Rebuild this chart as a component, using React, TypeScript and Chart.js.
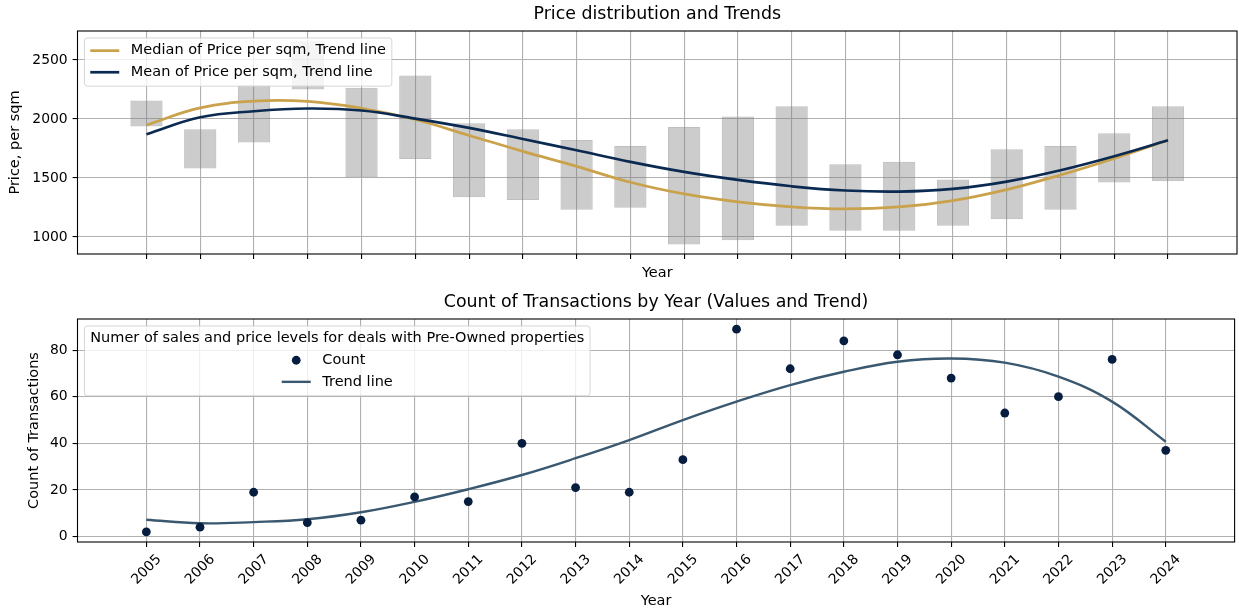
import React, { useEffect, useRef } from 'react';
import { Chart, registerables } from 'chart.js';

Chart.register(...registerables);

// ---------- data ----------
const years = [2005, 2006, 2007, 2008, 2009, 2010, 2011, 2012, 2013, 2014, 2015, 2016, 2017, 2018, 2019, 2020, 2021, 2022, 2023, 2024];
const priceLow = [1935, 1580, 1800, 2250, 1505, 1660, 1337, 1313, 1231, 1248, 935, 971, 1094, 1053, 1053, 1094, 1149, 1231, 1462, 1471];
const priceHigh = [2155, 1912, 2285, 2658, 2263, 2367, 1964, 1912, 1822, 1771, 1932, 2020, 2108, 1616, 1636, 1486, 1742, 1771, 1878, 2108];
const medianTrend = [1949, 2093, 2150, 2148, 2090, 1995, 1860, 1725, 1598, 1463, 1364, 1297, 1254, 1237, 1254, 1308, 1401, 1525, 1665, 1819];
const meanTrend = [1870, 2014, 2065, 2088, 2071, 2003, 1924, 1830, 1734, 1636, 1551, 1483, 1429, 1393, 1384, 1407, 1469, 1565, 1684, 1819];
const counts = [2, 4, 19, 6, 7, 17, 15, 40, 21, 19, 33, 89, 72, 84, 78, 68, 53, 60, 76, 37];
const countTrend = [7.2, 5.7, 6.2, 7.4, 10.4, 14.9, 20.3, 26.4, 33.6, 41.4, 50, 57.9, 65, 70.7, 75, 76.4, 74.6, 68.6, 57.9, 40.7];
const priceTicks = [1000, 1500, 2000, 2500];
const countTicks = [0, 20, 40, 60, 80];

// ---------- styles / layout ----------
const FONT = "'DejaVu Sans', sans-serif";
const FS = 13.9; // tick labels
const LFS = 14.5; // legend / axis titles
const TITLE_FS = 17.4;
const W = 1239;
const TOP_H = 290;
const BOT_H = 322;
const PLOT_LEFT = 77.5;
const X_MIN = 2003.717;
const X_MAX = 2025.283;
const GOLD = '#C9A24B';
const NAVY = '#0B2A52';
const DOT = '#071D3F';
const TREND = '#3A586F';
const GRID = '#b0b0b0';

type LegendItem = { label: string; kind: 'line' | 'dot'; color: string; width?: number };
type LegendSpec = { title?: string; items: LegendItem[] };

function roundRectPath(ctx: CanvasRenderingContext2D, x: number, y: number, w: number, h: number, r: number) {
  ctx.beginPath();
  ctx.moveTo(x + r, y);
  ctx.lineTo(x + w - r, y);
  ctx.arcTo(x + w, y, x + w, y + r, r);
  ctx.lineTo(x + w, y + h - r);
  ctx.arcTo(x + w, y + h, x + w - r, y + h, r);
  ctx.lineTo(x + r, y + h);
  ctx.arcTo(x, y + h, x, y + h - r, r);
  ctx.lineTo(x, y + r);
  ctx.arcTo(x, y, x + r, y, r);
  ctx.closePath();
}

function decorPlugin(title: string, legend: LegendSpec) {
  return {
    id: 'mplDecor',
    afterDraw(chart: any) {
      const { ctx, chartArea: ca } = chart;
      ctx.save();
      // frame (spines)
      ctx.strokeStyle = '#000';
      ctx.lineWidth = 1.1;
      ctx.strokeRect(ca.left, ca.top, ca.right - ca.left, ca.bottom - ca.top);

      // title
      ctx.font = `${TITLE_FS}px ${FONT}`;
      ctx.fillStyle = '#000';
      ctx.textAlign = 'center';
      ctx.textBaseline = 'alphabetic';
      ctx.fillText(title, (ca.left + ca.right) / 2, ca.top - 11.8);

      // legend
      ctx.font = `${LFS}px ${FONT}`;
      const pad = 5.8;
      const handleLen = 29;
      const handlePad = 11.6;
      const rowH = 21.6;
      const x0 = ca.left + 6.95;
      const y0 = ca.top + 6.95;
      const labelW = Math.max(...legend.items.map((it) => ctx.measureText(it.label).width));
      const entriesW = handleLen + handlePad + labelW;
      const titleW = legend.title ? ctx.measureText(legend.title).width : 0;
      const innerW = Math.max(entriesW, titleW);
      const nRows = legend.items.length + (legend.title ? 1 : 0);
      const boxW = innerW + 2 * pad;
      const boxH = 26.6 + (nRows - 1) * rowH;
      roundRectPath(ctx, x0, y0, boxW, boxH, 2.8);
      ctx.fillStyle = 'rgba(255,255,255,0.8)';
      ctx.fill();
      ctx.strokeStyle = 'rgba(204,204,204,0.8)';
      ctx.lineWidth = 1;
      ctx.stroke();

      let rowY = y0 + 12.7;
      ctx.textBaseline = 'middle';
      ctx.fillStyle = '#000';
      if (legend.title) {
        ctx.textAlign = 'center';
        ctx.fillText(legend.title, x0 + boxW / 2, rowY);
        rowY += rowH;
      }
      const bx = x0 + pad + (innerW - entriesW) / 2;
      for (const it of legend.items) {
        if (it.kind === 'line') {
          ctx.strokeStyle = it.color;
          ctx.lineWidth = it.width || 2;
          ctx.beginPath();
          ctx.moveTo(bx, rowY);
          ctx.lineTo(bx + handleLen, rowY);
          ctx.stroke();
        } else {
          ctx.fillStyle = it.color;
          ctx.beginPath();
          ctx.arc(bx + handleLen / 2, rowY, 4.4, 0, Math.PI * 2);
          ctx.fill();
        }
        ctx.fillStyle = '#000';
        ctx.textAlign = 'left';
        ctx.fillText(it.label, bx + handleLen + handlePad, rowY);
        rowY += rowH;
      }
      ctx.restore();
    },
  };
}

const tickFont = { size: FS, family: FONT };
const labelFont = { size: LFS, family: FONT };

function baseX(showLabels: boolean, height: number, titlePadBottom: number) {
  return {
    type: 'linear',
    min: X_MIN,
    max: X_MAX,
    offset: false,
    grid: { offset: false, color: GRID, lineWidth: 1.1, tickColor: '#000', tickLength: 4.9, tickWidth: 1.1, drawTicks: true },
    border: { display: false },
    ticks: showLabels
      ? {
          display: true,
          autoSkip: false,
          minRotation: 45,
          maxRotation: 45,
          labelOffset: 12.8,
          padding: 4.4,
          font: tickFont,
          color: '#000',
          callback: (v: any) => String(v),
        }
      : { display: false },
    afterBuildTicks: (s: any) => {
      s.ticks = years.map((v) => ({ value: v }));
    },
    afterFit: (s: any) => {
      s.height = height;
    },
    title: { display: true, text: 'Year', font: labelFont, color: '#000', padding: { top: 0, bottom: titlePadBottom } },
  };
}

function baseY(min: number, max: number, ticks: number[], title: string, titlePad: number) {
  return {
    type: 'linear',
    min,
    max,
    beginAtZero: false,
    grid: { color: GRID, lineWidth: 1.1, tickColor: '#000', tickLength: 4.9, tickWidth: 1.1, drawTicks: true },
    border: { display: false },
    ticks: { font: tickFont, color: '#000', padding: 4.9, autoSkip: false, callback: (v: any) => String(v) },
    afterBuildTicks: (s: any) => {
      s.ticks = ticks.map((v) => ({ value: v }));
    },
    afterFit: (s: any) => {
      s.width = PLOT_LEFT;
    },
    title: { display: true, text: title, font: labelFont, color: '#000', padding: { top: titlePad, bottom: 0 } },
  };
}

export default function App() {
  const topRef = useRef<HTMLCanvasElement>(null);
  const botRef = useRef<HTMLCanvasElement>(null);

  useEffect(() => {
    Chart.defaults.font.family = FONT;
    Chart.defaults.color = '#000';

    const top = new Chart(topRef.current as HTMLCanvasElement, {
      type: 'bar',
      data: {
        datasets: [
          {
            type: 'line',
            label: 'Mean of Price per sqm, Trend line',
            data: years.map((y, i) => ({ x: y, y: meanTrend[i] })),
            borderColor: NAVY,
            borderWidth: 2.7,
            pointRadius: 0,
            tension: 0.4,
            fill: false,
            order: 1,
          },
          {
            type: 'line',
            label: 'Median of Price per sqm, Trend line',
            data: years.map((y, i) => ({ x: y, y: medianTrend[i] })),
            borderColor: GOLD,
            borderWidth: 2.7,
            pointRadius: 0,
            tension: 0.4,
            fill: false,
            order: 2,
          },
          {
            type: 'bar',
            label: 'Price range',
            data: years.map((y, i) => ({ x: y, y: [priceLow[i], priceHigh[i]] })),
            backgroundColor: 'rgba(128,128,128,0.4)',
            borderColor: 'rgba(128,128,128,0.5)',
            borderWidth: 1,
            borderSkipped: false,
            categoryPercentage: 1,
            barPercentage: 0.6,
            order: 3,
          },
        ],
      } as any,
      options: {
        animation: false,
        responsive: false,
        events: [],
        devicePixelRatio: 1,
        layout: { padding: { top: 31, right: 2, left: 0, bottom: 0 } },
        plugins: { legend: { display: false }, tooltip: { enabled: false }, title: { display: false } },
        scales: {
          x: baseX(false, TOP_H - 254, 8.3),
          y: baseY(855, 2745, priceTicks, 'Price, per sqm', 6.3),
        },
      } as any,
      plugins: [
        decorPlugin('Price distribution and Trends', {
          items: [
            { label: 'Median of Price per sqm, Trend line', kind: 'line', color: GOLD, width: 2.7 },
            { label: 'Mean of Price per sqm, Trend line', kind: 'line', color: NAVY, width: 2.7 },
          ],
        }),
      ] as any,
    });

    const bot = new Chart(botRef.current as HTMLCanvasElement, {
      type: 'scatter',
      data: {
        datasets: [
          {
            type: 'scatter',
            label: 'Count',
            data: years.map((y, i) => ({ x: y, y: counts[i] })),
            pointRadius: 4.4,
            pointBackgroundColor: DOT,
            pointBorderWidth: 0,
            showLine: false,
            order: 1,
          },
          {
            type: 'line',
            label: 'Trend line',
            data: years.map((y, i) => ({ x: y, y: countTrend[i] })),
            borderColor: TREND,
            borderWidth: 2.4,
            pointRadius: 0,
            tension: 0.4,
            fill: false,
            order: 2,
          },
        ],
      } as any,
      options: {
        animation: false,
        responsive: false,
        events: [],
        devicePixelRatio: 1,
        layout: { padding: { top: 29, right: 2, left: 0, bottom: 0 } },
        plugins: { legend: { display: false }, tooltip: { enabled: false }, title: { display: false } },
        scales: {
          x: baseX(true, BOT_H - 252, 2.3),
          y: baseY(-2.35, 93.35, countTicks, 'Count of Transactions', 25.3),
        },
      } as any,
      plugins: [
        decorPlugin('Count of Transactions by Year (Values and Trend)', {
          title: 'Numer of sales and price levels for deals with Pre-Owned properties',
          items: [
            { label: 'Count', kind: 'dot', color: DOT },
            { label: 'Trend line', kind: 'line', color: TREND, width: 2.4 },
          ],
        }),
      ] as any,
    });

    return () => {
      top.destroy();
      bot.destroy();
    };
  }, []);

  return (
    <div style={{ position: 'absolute', left: 0, top: 0, width: W, height: TOP_H + BOT_H, background: '#fff' }}>
      <canvas ref={topRef} width={W} height={TOP_H} style={{ display: 'block', width: W, height: TOP_H }} />
      <canvas ref={botRef} width={W} height={BOT_H} style={{ display: 'block', width: W, height: BOT_H }} />
    </div>
  );
}
